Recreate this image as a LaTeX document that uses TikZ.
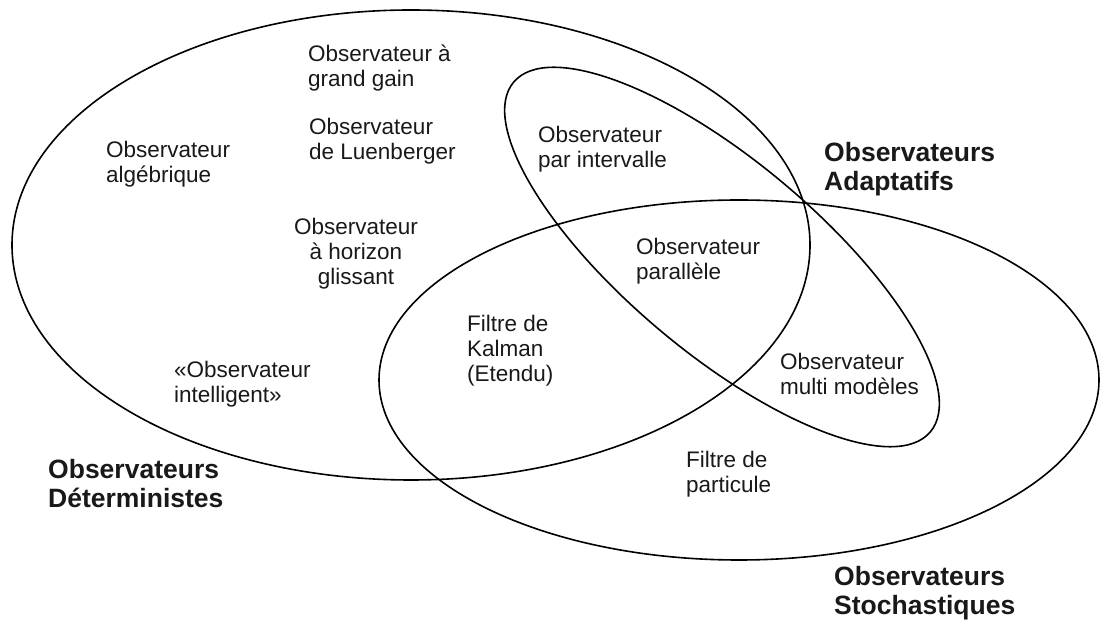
\documentclass[tikz,border=0pt]{standalone}
\usepackage{fontspec}
\setmainfont{Liberation Sans}
\begin{document}
\begin{tikzpicture}[x=1pt,y=1pt,
  set/.style={draw=black,line width=1.6pt},
  lbl/.style={font=\fontsize{22.5}{25}\selectfont,align=left,anchor=base west,inner sep=0pt,text=black!90},
  ttl/.style={font=\fontsize{26.5}{29}\selectfont\bfseries,align=left,anchor=base west,inner sep=0pt,text=black!90}]
\useasboundingbox (0,0) rectangle (1101,624);
\fill[white] (0,0) rectangle (1101,624);
% sets
\coordinate (cdet) at (411,379);
\coordinate (csto) at (739,244);
\coordinate (cada) at (722,367);
\draw[set] (cdet) ellipse [x radius=399, y radius=235];
\draw[set] (csto) ellipse [x radius=360, y radius=180];
\draw[set, rotate around={-40:(cada)}] (cada) ellipse [x radius=272, y radius=96];
% items (anchor = baseline of the last line)
\node[lbl] (grand) at (308,537) {Observateur à\\grand gain};
\node[lbl] (luen) at (309,464) {Observateur\\de Luenberger};
\node[lbl] (alg) at (106,441) {Observateur\\algébrique};
\node[lbl,align=center,anchor=base] (horiz) at (356,339) {Observateur\\à horizon\\glissant};
\node[lbl] (inter) at (538,456) {Observateur\\par intervalle};
\node[lbl] (para) at (636,344) {Observateur\\parallèle};
\node[lbl] (kalman) at (467,242) {Filtre de\\Kalman\\(Etendu)};
\node[lbl] (intel) at (174,221) {«Observateur\\intelligent»};
\node[lbl] (multi) at (780,229) {Observateur\\multi modèles};
\node[lbl] (part) at (686,131) {Filtre de\\particule};
% set titles
\node[ttl] (tdet) at (48,116) {Observateurs\\Déterministes};
\node[ttl] (tada) at (824,433) {Observateurs\\Adaptatifs};
\node[ttl] (tsto) at (834,9) {Observateurs\\Stochastiques};
\end{tikzpicture}
\end{document}
